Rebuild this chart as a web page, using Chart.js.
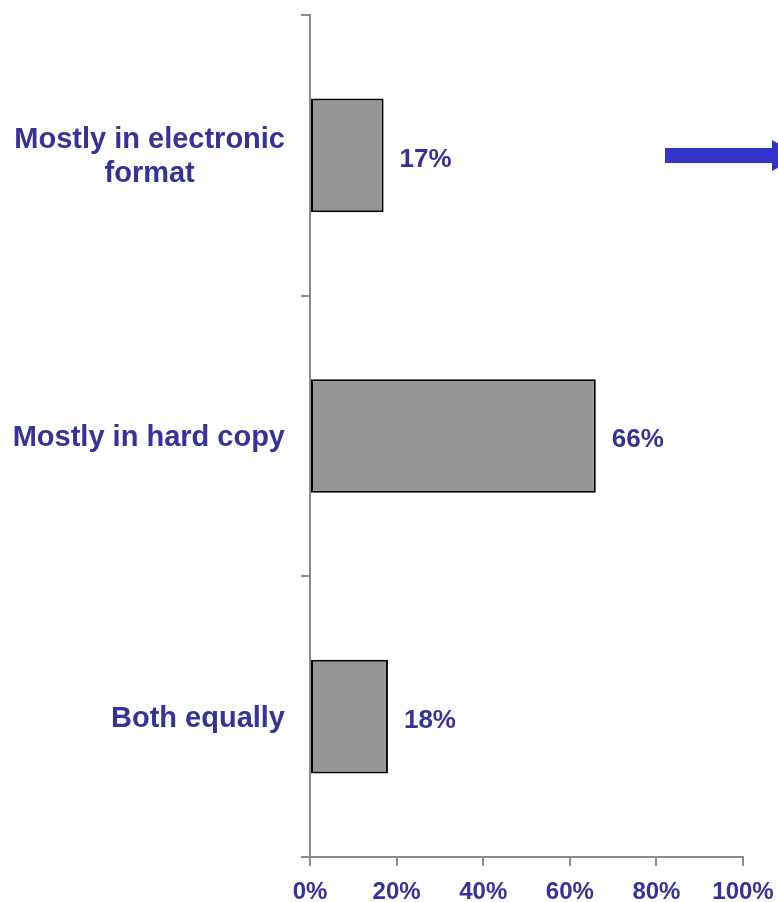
<!DOCTYPE html>
<html>
<head>
<meta charset="utf-8">
<script src="https://cdn.jsdelivr.net/npm/chart.js@4/dist/chart.umd.min.js"></script>
<style>
  html, body { margin: 0; padding: 0; background: #fff; }
  canvas { display: block; }
</style>
</head>
<body>
<canvas id="formatChart" width="778" height="902"></canvas>
<script>
// categories (multi-line labels as arrays) and their shares in %
const categories = [['Mostly in electronic', 'format'], ['Mostly in hard copy'], ['Both equally']];
const shares = [17, 66, 18];
const tickValues = [0, 20, 40, 60, 80, 100];

const textColor = '#333399';
const axisColor = '#8c8c8c';
const fontFamily = '"Liberation Sans", Arial, sans-serif';

/*---------- category labels: block right-aligned, lines centred inside ----------*/
const categoryLabels = {
  id: 'categoryLabels',
  afterDraw(chart) {
    const ctx = chart.ctx;
    const yScale = chart.scales.y;
    ctx.save();
    ctx.font = 'bold 29px ' + fontFamily;
    ctx.fillStyle = textColor;
    ctx.textAlign = 'center';
    ctx.textBaseline = 'middle';
    const lineHeight = 34;
    categories.forEach((lines, i) => {
      const cy = yScale.getPixelForValue(i) + 2;
      const blockW = Math.max(...lines.map(l => ctx.measureText(l).width));
      const cx = yScale.right - 25 - blockW / 2;
      const y0 = cy - (lines.length - 1) * lineHeight / 2;
      lines.forEach((l, k) => ctx.fillText(l, cx, y0 + k * lineHeight));
    });
    ctx.restore();
  }
};

/*---------- value labels to the right of each bar ----------*/
const valueLabels = {
  id: 'valueLabels',
  afterDatasetsDraw(chart) {
    const ctx = chart.ctx;
    const meta = chart.getDatasetMeta(0);
    ctx.save();
    ctx.font = 'bold 26px ' + fontFamily;
    ctx.fillStyle = textColor;
    ctx.textAlign = 'left';
    ctx.textBaseline = 'middle';
    meta.data.forEach((bar, i) => {
      ctx.fillText(shares[i] + '%', bar.x + 16, bar.y + 4);
    });
    ctx.restore();
  }
};

/*---------- blue arrow at the top right ----------*/
const sideArrow = {
  id: 'sideArrow',
  afterDraw(chart) {
    const ctx = chart.ctx;
    ctx.save();
    ctx.fillStyle = '#3333cc';
    ctx.fillRect(665, 148, 108, 15);
    ctx.beginPath();
    ctx.moveTo(772, 140);
    ctx.lineTo(800, 155.5);
    ctx.lineTo(772, 171);
    ctx.closePath();
    ctx.fill();
    ctx.restore();
  }
};

new Chart(document.getElementById('formatChart'), {
  type: 'bar',
  data: {
    labels: categories,
    datasets: [{
      data: shares,
      backgroundColor: '#969696',
      borderColor: '#000000',
      borderWidth: 2,
      borderSkipped: false,
      barPercentage: 0.405,
      categoryPercentage: 1.0
    }]
  },
  options: {
    indexAxis: 'y',
    responsive: false,
    animation: false,
    devicePixelRatio: 1,
    layout: { padding: { top: 15, right: 35, left: 0, bottom: 0 } },
    plugins: { legend: { display: false }, tooltip: { enabled: false } },
    scales: {
      y: {
        afterFit: s => { s.width = 310; },
        border: { color: axisColor, width: 2 },
        grid: { drawOnChartArea: false, offset: true, tickLength: 9, color: axisColor, lineWidth: 2 },
        ticks: { display: false }
      },
      x: {
        min: tickValues[0],
        max: tickValues[tickValues.length - 1],
        afterFit: s => { s.height = 45; s.paddingLeft = 0; s.paddingRight = 0; },
        afterBuildTicks: s => { s.ticks = tickValues.map(v => ({ value: v })); },
        border: { color: axisColor, width: 2 },
        grid: { drawOnChartArea: false, tickLength: 9, color: axisColor, lineWidth: 2 },
        ticks: {
          padding: 12,
          color: textColor,
          font: { family: fontFamily, size: 24, weight: 'bold' },
          callback: v => v + '%'
        }
      }
    }
  },
  plugins: [categoryLabels, valueLabels, sideArrow]
});
</script>
</body>
</html>
